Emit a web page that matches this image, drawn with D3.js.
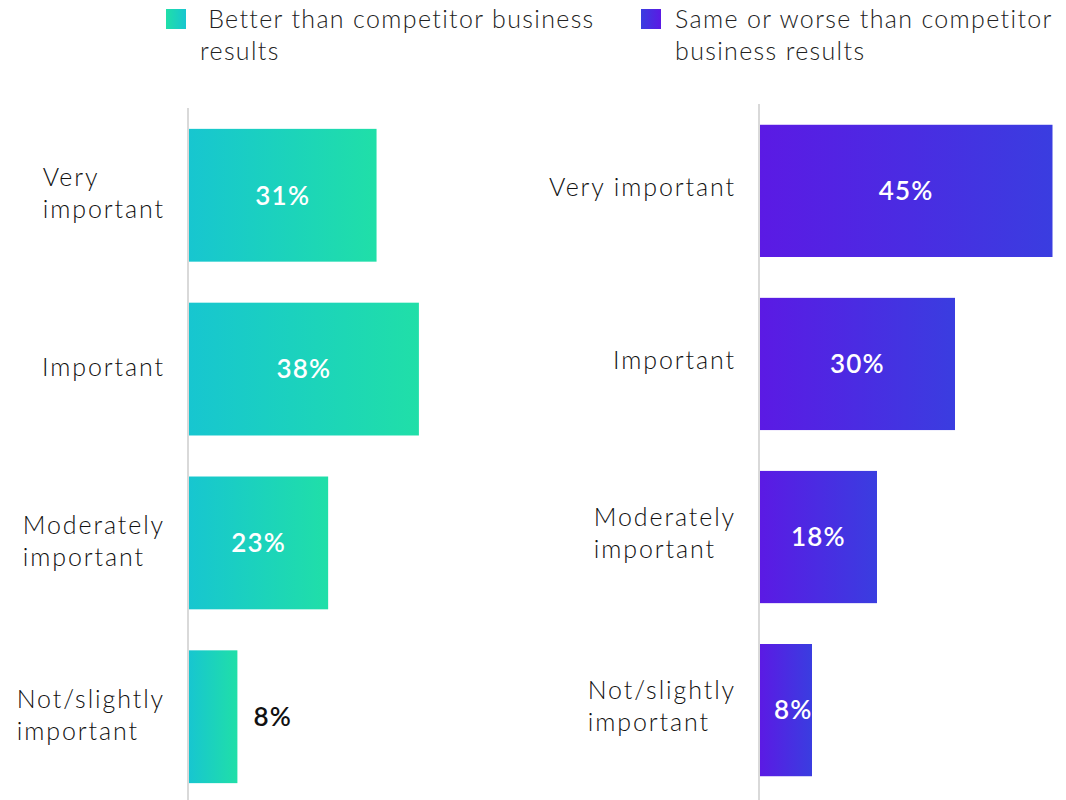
<!DOCTYPE html>
<html lang="en">

<head>
  <meta charset="UTF-8">
  <script src="https://cdnjs.cloudflare.com/ajax/libs/d3/7.8.5/d3.min.js"></script>
  <style>
    body {
      margin: 0;
      background: #fff;
      font-family: 'Lato', 'Noto Sans', sans-serif;
    }

    .cat {
      font-size: 25px;
      font-weight: 300;
      fill: #111;
      letter-spacing: 1.9px;
    }

    .legend-text {
      font-size: 25px;
      font-weight: 300;
      fill: #222;
      letter-spacing: 1.35px;
    }

    .val {
      font-size: 26px;
      font-weight: 600;
      letter-spacing: 1.2px;
    }
  </style>
  <title>Importance</title>
</head>

<body>
  <div id="chart"></div>
<script>
  // categories, one array of lines per label
  const leftLabels = [["Very", "important"], ["Important"], ["Moderately", "important"], ["Not/slightly", "important"]];
  const rightLabels = [["Very important"], ["Important"], ["Moderately", "important"], ["Not/slightly", "important"]];
  const betterValues = [31, 38, 23, 8];
  const worseValues = [45, 30, 18, 8];
  const legendLines = [[" Better than competitor business", "results"], ["Same or worse than competitor", "business results"]];

  const width = 1066, height = 800;

  const svg = d3.select("#chart")
    .append("svg")
    .attr("width", width)
    .attr("height", height);

  // gradients
  const defs = svg.append("defs");
  function grad(id, c0, c1) {
    const g = defs.append("linearGradient").attr("id", id)
      .attr("x1", "0%").attr("x2", "100%").attr("y1", "0%").attr("y2", "0%");
    g.append("stop").attr("offset", "0%").attr("stop-color", c0);
    g.append("stop").attr("offset", "100%").attr("stop-color", c1);
  }
  grad("teal", "#17c6d0", "#20dfa8");
  grad("purple", "#5b1ae4", "#3a3de0");
  grad("tealLeg", "#20dfa8", "#17c6d0");
  grad("purpleLeg", "#3a3de0", "#5b1ae4");

  // legend
  const legendX = [166, 641];
  const legendFill = ["url(#tealLeg)", "url(#purpleLeg)"];
  legendLines.forEach(function (lines, i) {
    svg.append("rect")
      .attr("x", legendX[i]).attr("y", 9)
      .attr("width", 20).attr("height", 20)
      .attr("fill", legendFill[i]);
    const t = svg.append("text").attr("class", "legend-text")
      .attr("y", 28)
      .attr("xml:space", "preserve");
    lines.forEach(function (l, j) {
      t.append("tspan").attr("x", legendX[i] + 34).attr("dy", j ? 32 : 0).text(l);
    });
  });

  function panel(opts) {
    const g = svg.append("g");
    const y = d3.scaleBand()
      .domain(d3.range(opts.values.length))
      .range(opts.yRange)
      .paddingInner(0.236)
      .paddingOuter(0.12);
    const x = d3.scaleLinear().domain([0, 100]).range([opts.x0, opts.x0 + opts.pxPer * 100]);

    // axis line
    g.append("line")
      .attr("x1", x(0) - 1).attr("x2", x(0) - 1)
      .attr("y1", opts.yRange[0]).attr("y2", height)
      .attr("stroke", "#d9d9d9").attr("stroke-width", 2);

    g.selectAll("rect.bar")
      .data(opts.values)
      .join("rect")
      .attr("class", "bar")
      .attr("x", x(0))
      .attr("y", (d, i) => y(i))
      .attr("width", d => x(d) - x(0))
      .attr("height", y.bandwidth())
      .attr("fill", opts.fill);

    // value labels
    g.selectAll("text.val")
      .data(opts.values)
      .join("text")
      .attr("class", "val")
      .attr("dy", "0.36em")
      .attr("y", (d, i) => y(i) + y.bandwidth() / 2)
      .attr("x", function (d, i) {
        if (opts.outside[i]) return x(d) + 16;
        if (opts.offset[i]) return x(0) + opts.offset[i];
        return (x(0) + x(d)) / 2;
      })
      .attr("text-anchor", (d, i) => (opts.outside[i] || opts.offset[i]) ? "start" : "middle")
      .attr("fill", (d, i) => opts.outside[i] ? "#111" : "#fff")
      .text(d => d + "%");

    // category labels: block right-aligned, lines left-aligned
    const lh = 32;
    opts.labels.forEach(function (lines, i) {
      const cy = y(i) + y.bandwidth() / 2 + opts.labelShift;
      const t = g.append("text").attr("class", "cat");
      lines.forEach(function (l, j) {
        t.append("tspan")
          .attr("y", cy + (j - (lines.length - 1) / 2) * lh)
          .attr("dy", "0.32em")
          .text(l);
      });
      let w = 0;
      t.selectAll("tspan").each(function () { w = Math.max(w, this.getComputedTextLength()); });
      t.selectAll("tspan").attr("x", opts.labelRight - w);
    });
  }

  panel({
    values: betterValues, labels: leftLabels, yRange: [108, 804], x0: 189, pxPer: 6.05,
    fill: "url(#teal)", labelRight: 165, labelShift: -1, outside: [false, false, false, true], offset: [0, 0, 0, 0]
  });
  panel({
    values: worseValues, labels: rightLabels, yRange: [104, 797], x0: 760, pxPer: 6.5,
    fill: "url(#purple)", labelRight: 736, labelShift: -3, outside: [false, false, false, false], offset: [0, 0, 0, 14]
  });
</script>
</body>

</html>
